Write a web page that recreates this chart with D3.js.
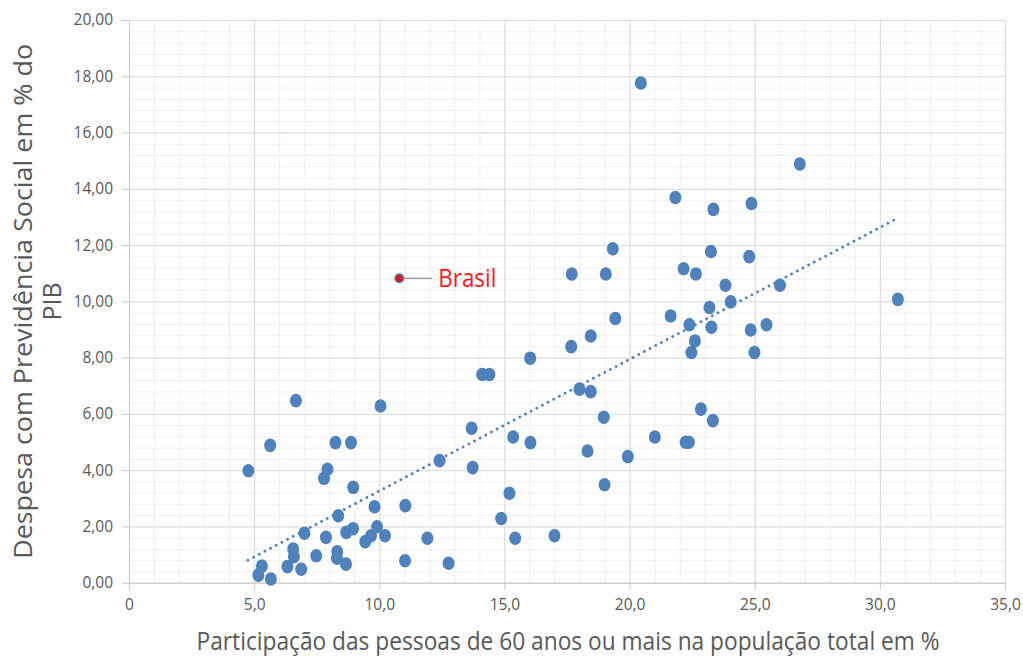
<!DOCTYPE html>
<html>
<head>
<meta charset="utf-8">
<script src="https://cdn.jsdelivr.net/npm/d3@7"></script>
<style>
    body { margin: 0; background: #fff; }
    #scatter text { font-family: "Open Sans", "Noto Sans", sans-serif; }
</style>
</head>
<body>
<div id="scatter"></div>
<script>
    // % of population aged 60+ (x) and social security spending in % of GDP (y)
    const ageShare = [
        4.77, 5.64, 6.67, 10.05, 8.25, 8.87, 7.93, 7.79, 8.96, 12.41,
        9.81, 11.04, 8.36, 7.01, 7.87, 8.68, 8.95, 9.91, 9.44, 9.67,
        10.23, 11.92, 6.56, 6.59, 7.48, 8.32, 8.31, 8.67, 6.33, 6.88,
        5.31, 5.17, 5.67, 11.03, 12.77,
        16.03, 17.67, 18.45, 14.11, 14.40, 18.00, 18.45, 18.97, 13.69, 15.35,
        16.04, 18.32, 19.93, 21.01, 13.73, 19.00, 15.20, 14.87, 15.43, 17.00,
        20.45, 26.80, 21.83, 24.87, 23.35, 19.33, 17.69, 19.05, 23.25, 24.78,
        22.16, 22.65, 23.83, 26.01, 24.04, 23.19, 19.43, 21.64, 22.39, 23.27,
        24.84, 25.47, 22.61, 22.47, 24.99, 30.72, 22.85, 23.33, 22.24, 22.37
    ]
    const pensionSpend = [
        3.98, 4.88, 6.47, 6.28, 4.98, 4.98, 4.03, 3.71, 3.39, 4.34,
        2.70, 2.74, 2.38, 1.76, 1.61, 1.79, 1.92, 1.99, 1.46, 1.67,
        1.67, 1.58, 1.20, 0.92, 0.96, 1.10, 0.87, 0.66, 0.57, 0.48,
        0.59, 0.27, 0.13, 0.78, 0.69,
        7.98, 8.39, 8.77, 7.40, 7.40, 6.88, 6.79, 5.88, 5.49, 5.18,
        4.98, 4.68, 4.48, 5.18, 4.09, 3.48, 3.18, 2.28, 1.58, 1.67,
        17.76, 14.88, 13.69, 13.48, 13.27, 11.87, 10.97, 10.97, 11.77, 11.59,
        11.16, 10.97, 10.57, 10.57, 9.98, 9.78, 9.39, 9.48, 9.17, 9.08,
        8.98, 9.17, 8.59, 8.18, 8.18, 10.07, 6.17, 5.76, 4.99, 4.99
    ]
    const brasil = { label: 'Brasil', x: 10.8, y: 10.82 }
    // linear trend line as drawn (start and end)
    const trendX = [4.75, 30.7]
    const trendY = [0.80, 12.95]

    const xTicks = [0, 5, 10, 15, 20, 25, 30, 35]
    const yTicks = [0, 2, 4, 6, 8, 10, 12, 14, 16, 18, 20]
    const xTitle = 'Participação das pessoas de 60 anos ou mais na população total em %'
    const yTitle = ['Despesa com Previdência Social em % do', 'PIB']

    const draw = () => {
        const width = 1023
        const height = 659
        const blue = '#4f81bd'
        const textColor = '#595959'

        const data = ageShare.map((d, i) => ({ x: d, y: pensionSpend[i] }))

        const svg = d3
            .select('#scatter')
            .append('svg')
            .attr('width', width)
            .attr('height', height)

        const xScale = d3
            .scaleLinear()
            .domain([0, 35])
            .range([129, 1005])
        const yScale = d3
            .scaleLinear()
            .domain([0, 20])
            .range([582.7, 20])

        const top = yScale(20)
        const bottom = yScale(0)
        const left = xScale(0)
        const right = xScale(35)

        // minor grid
        svg
            .append('g')
            .attr('class', 'grid-minor')
            .attr('transform', `translate(0,${bottom})`)
            .call(d3.axisBottom(xScale).tickValues(d3.range(0, 36, 1)).tickSize(-(bottom - top)).tickFormat(''))
            .call(g => g.select('.domain').remove())
            .attr('color', '#f0f0f0')
        svg
            .append('g')
            .attr('class', 'grid-minor')
            .attr('transform', `translate(${left},0)`)
            .call(d3.axisLeft(yScale).tickValues(d3.range(0, 20.01, 0.4)).tickSize(-(right - left)).tickFormat(''))
            .call(g => g.select('.domain').remove())
            .attr('color', '#f0f0f0')

        // major grid
        svg
            .append('g')
            .attr('class', 'grid')
            .attr('transform', `translate(0,${bottom})`)
            .call(d3.axisBottom(xScale).tickValues(xTicks).tickSize(-(bottom - top)).tickFormat(''))
            .call(g => g.select('.domain').remove())
            .attr('color', '#dcdcdc')
        svg
            .append('g')
            .attr('class', 'grid')
            .attr('transform', `translate(${left},0)`)
            .call(d3.axisLeft(yScale).tickValues(yTicks).tickSize(-(right - left)).tickFormat(''))
            .call(g => g.select('.domain').remove())
            .attr('color', '#dcdcdc')

        // axes
        const xAxis = svg
            .append('g')
            .attr('class', 'x-axis')
            .attr('transform', `translate(0,${bottom})`)
            .call(d3.axisBottom(xScale).tickValues(xTicks).tickSize(7).tickSizeOuter(0).tickPadding(9)
                .tickFormat(d => d === 0 ? '0' : d3.format('.1f')(d).replace('.', ',')))
            .attr('color', '#c8c8c8')
        xAxis.selectAll('text')
            .attr('fill', textColor)
            .style('font-size', '15.5px')

        const yAxis = svg
            .append('g')
            .attr('class', 'y-axis')
            .attr('transform', `translate(${left},0)`)
            .call(d3.axisLeft(yScale).tickValues(yTicks).tickSize(7).tickSizeOuter(0).tickPadding(9)
                .tickFormat(d => d3.format('.2f')(d).replace('.', ',')))
            .attr('color', '#c8c8c8')
        yAxis.selectAll('text')
            .attr('fill', textColor)
            .style('font-size', '15.5px')

        // trend line
        const line = d3
            .line()
            .x(d => xScale(d[0]))
            .y(d => yScale(d[1]))
        svg
            .append('path')
            .datum(trendX.map((d, i) => [d, trendY[i]]))
            .attr('fill', 'none')
            .attr('stroke', blue)
            .attr('stroke-width', 2.8)
            .attr('stroke-linecap', 'round')
            .attr('stroke-dasharray', '0.1 6.3')
            .attr('d', line)

        // points
        svg
            .append('g')
            .selectAll('ellipse')
            .data(data)
            .join('ellipse')
            .attr('cx', d => xScale(d.x))
            .attr('cy', d => yScale(d.y))
            .attr('rx', 6)
            .attr('ry', 6.8)
            .attr('fill', blue)

        // Brasil highlight
        const bx = xScale(brasil.x)
        const by = yScale(brasil.y)
        svg
            .append('line')
            .attr('x1', bx + 5)
            .attr('x2', bx + 33)
            .attr('y1', by)
            .attr('y2', by)
            .attr('stroke', '#8c8c8c')
            .attr('stroke-width', 1.2)
        svg
            .append('circle')
            .attr('cx', bx)
            .attr('cy', by)
            .attr('r', 4.2)
            .attr('fill', '#e8101c')
            .attr('stroke', blue)
            .attr('stroke-width', 1.6)
        svg
            .append('text')
            .attr('x', bx + 39)
            .attr('y', by + 9)
            .attr('fill', '#ff1a1a')
            .attr('textLength', 58)
            .attr('lengthAdjust', 'spacingAndGlyphs')
            .style('font-size', '25px')
            .text(brasil.label)

        // axis titles
        svg
            .append('text')
            .attr('x', 568)
            .attr('y', 650)
            .attr('text-anchor', 'middle')
            .attr('fill', textColor)
            .attr('textLength', 743)
            .attr('lengthAdjust', 'spacingAndGlyphs')
            .style('font-size', '25px')
            .text(xTitle)

        const yMid = (top + bottom) / 2
        svg
            .append('g')
            .attr('transform', `translate(32,${yMid}) rotate(-90)`)
            .selectAll('text')
            .data(yTitle)
            .join('text')
            .attr('x', 0)
            .attr('y', (d, i) => i * 29)
            .attr('text-anchor', 'middle')
            .attr('fill', textColor)
            .attr('textLength', (d, i) => i === 0 ? 515 : null)
            .attr('lengthAdjust', 'spacingAndGlyphs')
            .style('font-size', '25px')
            .text(d => d)
    }

    draw()
</script>
</body>
</html>
